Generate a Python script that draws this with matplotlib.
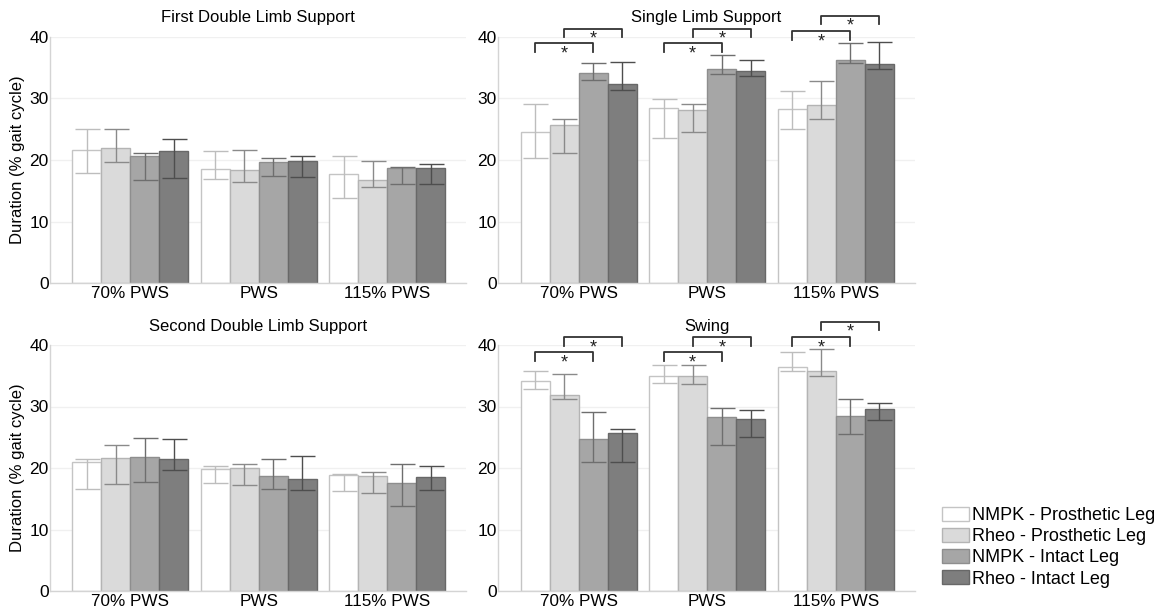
import matplotlib
matplotlib.use("Agg")
import matplotlib.pyplot as plt
from matplotlib.patches import Patch
import numpy as np

plt.rcParams['font.family'] = ['Liberation Sans', 'DejaVu Sans']

speeds = ["70% PWS", "PWS", "115% PWS"]
series = ["NMPK - Prosthetic Leg", "Rheo - Prosthetic Leg", "NMPK - Intact Leg", "Rheo - Intact Leg"]

# values per series (rows) per speed (cols); errors as (low, high) bounds
fdls_mean = [[21.7, 18.5, 17.7], [21.9, 18.3, 16.7], [20.7, 19.7, 18.7], [21.5, 19.8, 18.7]]
fdls_low  = [[17.9, 16.9, 13.8], [19.6, 16.4, 15.6], [16.7, 17.4, 16.1], [17.1, 17.2, 16.1]]
fdls_high = [[25.1, 21.4, 20.6], [25.0, 21.6, 19.9], [21.1, 20.4, 18.9], [23.4, 20.6, 19.3]]

sls_mean = [[24.6, 28.4, 28.3], [25.6, 28.1, 28.9], [34.1, 34.7, 36.3], [32.3, 34.5, 35.6]]
sls_low  = [[20.4, 23.5, 25.1], [21.2, 24.6, 26.6], [33.0, 33.9, 35.7], [31.4, 33.6, 34.8]]
sls_high = [[29.1, 29.9, 31.2], [26.7, 29.1, 32.8], [35.8, 37.0, 38.9], [35.9, 36.3, 39.2]]

sdls_mean = [[20.9, 19.8, 18.8], [21.6, 20.0, 18.7], [21.8, 18.7, 17.5], [21.4, 18.2, 18.5]]
sdls_low  = [[16.6, 17.6, 16.3], [17.4, 17.3, 16.0], [17.8, 16.6, 13.8], [19.6, 16.5, 16.5]]
sdls_high = [[21.4, 20.3, 19.0], [23.8, 20.7, 19.4], [24.9, 21.4, 20.6], [24.7, 21.9, 20.3]]

swing_mean = [[34.1, 34.9, 36.5], [31.9, 35.0, 35.8], [24.7, 28.3, 28.4], [25.7, 28.0, 29.6]]
swing_low  = [[32.8, 33.9, 35.8], [31.2, 33.6, 35.0], [21.0, 23.7, 25.6], [21.0, 25.1, 27.8]]
swing_high = [[35.8, 36.7, 38.8], [35.3, 36.7, 39.4], [29.1, 29.8, 31.3], [26.4, 29.5, 30.6]]

# significance bracket heights per speed: (NMPK pros vs NMPK intact, Rheo pros vs Rheo intact)
sls_brackets = [(38.9, 41.3), (38.9, 41.3), (40.9, 43.4)]
swing_brackets = [(38.8, 41.3), (38.8, 41.3), (41.3, 43.8)]

panels = [
    ("First Double Limb Support", fdls_mean, fdls_low, fdls_high, None),
    ("Single Limb Support", sls_mean, sls_low, sls_high, sls_brackets),
    ("Second Double Limb Support", sdls_mean, sdls_low, sdls_high, None),
    ("Swing", swing_mean, swing_low, swing_high, swing_brackets),
]

face = ["#ffffff", "#dadada", "#a6a6a6", "#7e7e7e"]
edge = ["#c4c4c4", "#b4b4b4", "#8e8e8e", "#686868"]
ecol = ["#bdbdbd", "#8a8a8a", "#6e6e6e", "#4e4e4e"]

W, H = 1165, 612
fig = plt.figure(figsize=(W / 100, H / 100), dpi=100)

boxes = [
    (50, 466, 36.7, 283.3),
    (498, 915, 36.7, 283.3),
    (50, 466, 345, 591),
    (498, 915, 345, 591),
]

bw = 0.226
x = np.arange(len(speeds))

for (title, mean, low, high, brackets), (l, r, t, b) in zip(panels, boxes):
    ax = fig.add_axes([l / W, 1 - b / H, (r - l) / W, (b - t) / H])
    for i in range(4):
        pos = x + (i - 1.5) * bw
        m = np.array(mean[i])
        lo = m - np.array(low[i])
        hi = np.array(high[i]) - m
        ax.bar(pos, m, width=bw, color=face[i], edgecolor=edge[i], linewidth=1.0, zorder=2)
        ax.errorbar(pos, m, yerr=[lo, hi], fmt='none', ecolor=ecol[i], elinewidth=1.0,
                    capsize=9, capthick=1.0, zorder=3)
    ax.set_xlim(-0.627, 2.615)
    ax.set_ylim(0, 40)
    ax.set_yticks([0, 10, 20, 30, 40])
    ax.set_xticks(x)
    ax.set_xticklabels(speeds, fontsize=12.3)
    ax.tick_params(axis='y', labelsize=12.5, length=0, pad=1)
    ax.tick_params(axis='x', length=0, pad=2)
    ax.grid(axis='y', color='#f0f0f0', linewidth=1.0, zorder=0)
    ax.set_axisbelow(True)
    for s in ["top", "right"]:
        ax.spines[s].set_visible(False)
    for s in ["left", "bottom"]:
        ax.spines[s].set_color("#d4d4d4")
        ax.spines[s].set_linewidth(1.0)
    fig.text((l + r) / 2 / W, 1 - (t - 19) / H, title, ha='center', va='center', fontsize=12)
    if l < 100:
        fig.text(18 / W, 1 - (t + b) / 2 / H, "Duration (% gait cycle)", rotation=90,
                 ha='center', va='center', fontsize=12)
    if brackets is not None:
        for g, (y1, y2) in enumerate(brackets):
            for (a, c), yy in zip([(0, 2), (1, 3)], (y1, y2)):
                xa = g + (a - 1.5) * bw
                xc = g + (c - 1.5) * bw
                ax.plot([xa, xa, xc, xc], [yy - 1.4, yy, yy, yy - 1.4], color="#333333",
                        linewidth=1.3, clip_on=False, zorder=4)
                ax.text((xa + xc) / 2, yy - 0.35, "*", ha='center', va='top', fontsize=13,
                        color="#222222", clip_on=False)

handles = [Patch(facecolor=face[i], edgecolor=edge[i], linewidth=1.0) for i in range(4)]
fig.legend(handles, series, loc='upper left', bbox_to_anchor=(942 / W, 1 - 507 / H),
           frameon=False, fontsize=13, handlelength=1.5, handleheight=0.8,
           handletextpad=0.15, labelspacing=0.22, borderpad=0, borderaxespad=0)

fig.savefig("out.png", dpi=100)
